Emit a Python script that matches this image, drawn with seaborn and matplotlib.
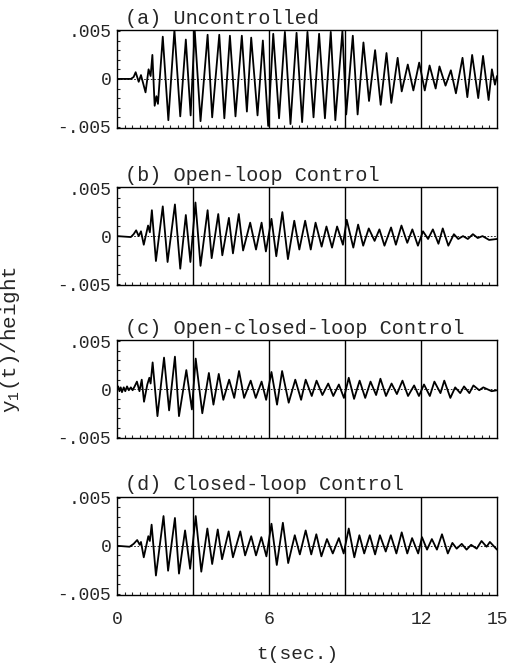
import matplotlib
matplotlib.use("Agg")
import numpy as np
import pandas as pd
import matplotlib.pyplot as plt
import seaborn as sns

sns.set_style("ticks")
plt.rcParams["font.family"] = ["Liberation Mono", "DejaVu Sans Mono"]
plt.rcParams["mathtext.fontset"] = "custom"
plt.rcParams["mathtext.rm"] = "Liberation Mono"
plt.rcParams["mathtext.default"] = "rm"

# extrema: (t [s], y1/height in units of 0.001)
pts_a = [(0.00, 0.0), (0.55, 0.0), (0.66, 0.2), (0.74, 0.7), (0.86, -0.3), (0.95, 0.4),
         (1.13, -1.4), (1.25, 1.0), (1.33, 0.3), (1.40, 2.5), (1.49, -2.8), (1.56, -1.8),
         (1.62, -2.6), (1.81, 4.4), (2.03, -4.3), (2.27, 5.1), (2.50, -3.9), (2.72, 4.1),
         (2.91, -3.8), (3.07, 5.1), (3.30, -4.4), (3.58, 4.6), (3.76, -4.0), (4.04, 4.6),
         (4.24, -4.1), (4.46, 4.5), (4.68, -3.9), (4.93, 4.5), (5.13, -3.4), (5.30, 4.3),
         (5.55, -3.8), (5.76, 4.0), (5.97, -4.9), (6.17, 4.7), (6.40, -4.1), (6.63, 4.9),
         (6.85, -4.7), (7.09, 4.8), (7.31, -4.5), (7.52, 4.9), (7.76, -4.0), (7.98, 4.7),
         (8.21, -4.1), (8.44, 4.9), (8.62, -4.3), (8.90, 5.0), (9.05, -3.7), (9.31, 4.5),
         (9.50, -3.7), (9.73, 3.8), (9.95, -2.3), (10.19, 3.0), (10.41, -2.7), (10.64, 2.7),
         (10.83, -2.5), (11.08, 2.2), (11.24, -1.3), (11.48, 1.5), (11.70, -1.2), (11.93, 1.7),
         (12.15, -1.2), (12.34, 1.4), (12.58, -1.0), (12.73, 1.3), (12.97, -0.7), (13.18, 0.9),
         (13.38, -1.5), (13.64, 2.2), (13.83, -1.9), (14.02, 2.5), (14.26, -2.0), (14.45, 2.4),
         (14.67, -2.2), (14.80, 1.0), (14.92, -0.6), (15.00, 0.3)]

pts_b = [(0.00, 0.0), (0.55, -0.1), (0.66, 0.2), (0.76, 0.6), (0.86, 0.0), (0.95, 0.5),
         (1.06, -0.9), (1.23, 1.1), (1.30, 0.4), (1.38, 2.7), (1.54, -2.6), (1.81, 3.1),
         (2.00, -2.7), (2.29, 3.3), (2.50, -3.4), (2.72, 2.2), (2.90, -2.7), (3.10, 3.5),
         (3.30, -3.1), (3.58, 2.7), (3.74, -2.3), (4.00, 2.3), (4.16, -2.0), (4.42, 1.9),
         (4.58, -1.8), (4.81, 2.3), (4.98, -1.5), (5.26, 1.4), (5.49, -1.4), (5.71, 1.4),
         (5.88, -1.6), (6.10, 1.8), (6.29, -2.1), (6.53, 2.5), (6.75, -2.4), (7.00, 1.6),
         (7.20, -1.4), (7.43, 1.6), (7.65, -1.4), (7.84, 1.4), (8.08, -1.1), (8.27, 1.0),
         (8.49, -1.2), (8.69, 1.0), (8.92, -0.9), (9.07, 1.7), (9.33, -1.2), (9.52, 1.2),
         (9.72, -1.0), (9.94, 0.8), (10.17, -0.5), (10.36, 0.7), (10.56, -1.0), (10.82, 0.9),
         (11.01, -0.9), (11.23, 1.1), (11.46, -0.7), (11.66, 0.7), (11.88, -1.0), (12.08, 0.5),
         (12.28, -0.3), (12.47, 0.7), (12.69, -0.8), (12.86, 0.8), (13.08, -1.0), (13.30, 0.2),
         (13.47, -0.3), (13.66, 0.0), (13.85, -0.3), (14.05, 0.2), (14.24, -0.2), (14.43, 0.0),
         (14.69, -0.4), (15.00, -0.3)]

pts_c = [(0.00, 0.0), (0.05, 0.3), (0.10, -0.2), (0.15, 0.2), (0.20, -0.3), (0.27, 0.2),
         (0.33, -0.2), (0.40, 0.3), (0.47, -0.1), (0.55, 0.2), (0.62, -0.1), (0.70, 0.3),
         (0.79, 0.8), (0.89, -0.2), (0.98, 1.0), (1.07, -1.3), (1.20, 0.5), (1.28, 1.2),
         (1.33, 0.6), (1.41, 2.8), (1.60, -2.8), (1.86, 3.3), (2.06, -2.2), (2.29, 3.4),
         (2.45, -2.8), (2.74, 2.0), (2.96, -2.1), (3.11, 3.2), (3.37, -2.5), (3.63, 1.7),
         (3.81, -1.6), (4.02, 1.6), (4.20, -1.1), (4.43, 1.0), (4.63, -0.9), (4.82, 1.9),
         (5.02, -0.9), (5.28, 0.9), (5.48, -0.9), (5.71, 0.8), (5.89, -1.1), (6.10, 1.8),
         (6.32, -1.6), (6.52, 1.9), (6.78, -1.4), (7.04, 1.0), (7.27, -1.1), (7.45, 1.0),
         (7.69, -0.7), (7.88, 0.9), (8.11, -0.6), (8.34, 0.6), (8.54, -0.7), (8.76, 0.5),
         (8.96, -0.9), (9.15, 1.2), (9.36, -1.0), (9.58, 0.9), (9.80, -0.9), (10.01, 0.8),
         (10.23, -0.6), (10.40, 1.1), (10.62, -0.7), (10.84, 0.6), (11.05, -0.5), (11.27, 0.9),
         (11.49, -0.7), (11.73, 0.4), (11.92, -0.7), (12.12, 0.5), (12.35, -0.7), (12.53, 0.8),
         (12.77, -0.4), (12.92, 0.9), (13.16, -0.9), (13.35, 0.2), (13.55, -0.4), (13.70, 0.3),
         (13.91, -0.4), (14.07, 0.4), (14.30, -0.1), (14.46, 0.2), (14.79, -0.2), (15.00, -0.1)]

pts_d = [(0.00, 0.0), (0.50, -0.1), (0.66, 0.2), (0.80, 0.6), (0.90, 0.1), (0.95, 0.4),
         (1.06, -1.2), (1.24, 1.0), (1.30, 0.5), (1.37, 2.2), (1.54, -3.1), (1.84, 3.1),
         (2.02, -2.6), (2.29, 2.9), (2.45, -2.9), (2.69, 1.6), (2.89, -2.4), (3.11, 3.1),
         (3.33, -2.7), (3.57, 1.8), (3.76, -1.9), (3.98, 1.7), (4.15, -1.4), (4.41, 1.5),
         (4.58, -1.2), (4.87, 1.5), (5.06, -1.0), (5.30, 1.0), (5.49, -1.0), (5.70, 0.9),
         (5.90, -1.1), (6.10, 2.3), (6.31, -2.0), (6.55, 2.4), (6.76, -1.8), (7.02, 1.1),
         (7.22, -0.9), (7.45, 1.6), (7.67, -0.9), (7.87, 1.2), (8.07, -1.1), (8.29, 0.7),
         (8.52, -0.8), (8.76, 0.8), (8.95, -0.8), (9.15, 1.8), (9.37, -1.2), (9.57, 1.1),
         (9.76, -0.8), (9.98, 1.1), (10.19, -0.9), (10.38, 1.1), (10.61, -0.6), (10.81, 1.1),
         (11.03, -0.8), (11.24, 1.4), (11.46, -0.8), (11.65, 0.8), (11.89, -0.8), (12.04, 0.9),
         (12.24, -0.4), (12.43, 0.7), (12.63, -0.4), (12.83, 1.2), (13.06, -0.8), (13.24, 0.3),
         (13.41, -0.3), (13.61, 0.2), (13.80, -0.4), (13.98, 0.1), (14.20, -0.3), (14.39, 0.5),
         (14.59, -0.1), (14.72, 0.4), (15.00, -0.4)]

titles = ["(a) Uncontrolled", "(b) Open-loop Control",
          "(c) Open-closed-loop Control", "(d) Closed-loop Control"]
x_ticks = [0, 6, 12, 15]
x_grid = [3, 6, 9, 12]
y_ticks = [-0.005, 0, 0.005]
y_labels = ["-.005", "0", ".005"]

fig = plt.figure(figsize=(5.15, 6.66), dpi=100)
bottoms = [0.808, 0.572, 0.342, 0.107]

for i, (title, pts) in enumerate(zip(titles, [pts_a, pts_b, pts_c, pts_d])):
    ax = fig.add_axes([0.227, bottoms[i], 0.738, 0.147])
    df = pd.DataFrame(pts, columns=["t", "y"])
    df["y"] = df["y"] * 1e-3
    sns.lineplot(data=df, x="t", y="y", ax=ax, color="black", lw=1.3,
                 estimator=None, sort=False)
    ax.axhline(0, color="black", lw=0.6, ls=(0, (2, 2)))
    for xv in x_grid:
        ax.axvline(xv, color="black", lw=1.0)

    ax.set_xlim(0, 15)
    ax.set_ylim(-0.0051, 0.0051)
    ax.set_xticks(x_ticks)
    ax.set_xticks(np.arange(0, 15.01, 0.3), minor=True)
    ax.set_yticks(y_ticks)
    ax.set_yticklabels(y_labels)
    ax.set_yticks(np.arange(-0.005, 0.0051, 0.001), minor=True)
    ax.tick_params(axis="x", which="major", length=0, pad=12, labelsize=13)
    ax.tick_params(axis="x", which="minor", direction="in", length=2.5, width=0.8)
    ax.tick_params(axis="y", which="both", direction="in", length=2.5, width=0.8,
                   pad=4, labelsize=13)
    if i < 3:
        ax.set_xticklabels([])
    ax.set_xlabel("")
    ax.set_ylabel("")
    for sp in ax.spines.values():
        sp.set_color("black")
        sp.set_linewidth(1.0)
    ax.text(0.02, 1.065, title, transform=ax.transAxes, fontsize=14.5, va="baseline")

fig.text(0.02, 0.49, "y$_1$(t)/height", rotation=90, fontsize=15,
         ha="center", va="center")
fig.text(0.577, 0.017, "t(sec.)", fontsize=14, ha="center", va="center")

fig.savefig("out.png", dpi=100)
